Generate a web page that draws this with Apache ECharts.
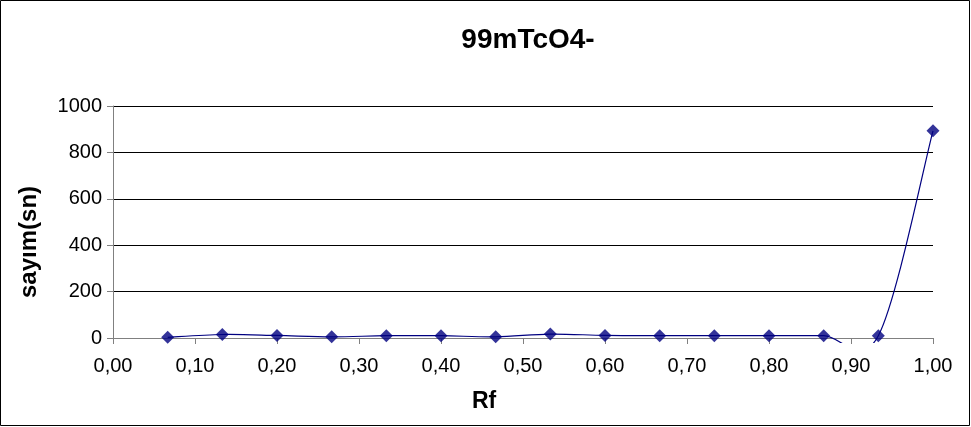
<!DOCTYPE html>
<html><head><meta charset="utf-8">
<script src="https://cdn.jsdelivr.net/npm/echarts@6/dist/echarts.min.js"></script>
<style>html,body{margin:0;padding:0;background:#fff}#c{width:971px;height:427px}</style>
</head><body><div id="c"></div>
<script>
const rfValues = [0.0667,0.1333,0.2,0.2667,0.3333,0.4,0.4667,0.5333,0.6,0.6667,0.7333,0.8,0.8667,0.9333,1.0];
const counts = [3,15,11,5,10,10,5,17,11,10,10,10,10,10,893];
const xTicks = [0,0.1,0.2,0.3,0.4,0.5,0.6,0.7,0.8,0.9,1.0];
const yTicks = [0,200,400,600,800,1000];
const points = rfValues.map((x,i)=>[x,counts[i]]);
const chart = echarts.init(document.getElementById('c'));
const f = 'Liberation Sans, Arial, sans-serif';
const LINE = '#000080';
function smoothPath(api){
  const p = points.map(d=>api.coord(d));
  const n = p.length;
  let d = 'M' + p[0][0] + ' ' + p[0][1];
  for (let i=0;i<n-1;i++){
    const p0 = p[Math.max(i-1,0)], p1 = p[i], p2 = p[i+1], p3 = p[Math.min(i+2,n-1)];
    const c1x = p1[0] + (p2[0]-p0[0])/6, c1y = p1[1] + (p2[1]-p0[1])/6;
    const c2x = p2[0] - (p3[0]-p1[0])/6, c2y = p2[1] - (p3[1]-p1[1])/6;
    d += ' C' + c1x + ' ' + c1y + ' ' + c2x + ' ' + c2y + ' ' + p2[0] + ' ' + p2[1];
  }
  return d;
}
chart.setOption({
  animation:false,
  title:{text:'99mTcO4-',left:523,textAlign:'center',top:21,textStyle:{fontFamily:f,fontSize:28,fontWeight:'bold',color:'#000'}},
  graphic:[
    {type:'rect',shape:{x:0.5,y:0.5,width:969,height:425},style:{fill:'none',stroke:'#000',lineWidth:1},silent:true},
    {type:'text',left:472,top:390,style:{text:'Rf',fontFamily:f,fontSize:23,fontWeight:'bold',fill:'#000'}},
    {type:'text',x:17,y:298,rotation:Math.PI/2,style:{text:'sayım(sn)',fontFamily:f,fontSize:24,fontWeight:'bold',fill:'#000'}}
  ],
  grid:{left:113,right:38,top:106,bottom:89},
  xAxis:{type:'value',min:0,max:1,interval:0.1,
    axisLine:{lineStyle:{color:'#808080'}},axisTick:{show:true,inside:false,length:6,lineStyle:{color:'#808080'}},
    splitLine:{show:false},
    axisLabel:{fontFamily:f,fontSize:20,color:'#000',margin:18,formatter:v=>v.toFixed(2).replace('.',',')}},
  yAxis:{type:'value',min:0,max:1000,interval:200,
    axisLine:{show:true,lineStyle:{color:'#808080'}},axisTick:{show:true,length:6,lineStyle:{color:'#808080'}},
    splitLine:{lineStyle:{color:'#000',width:1}},
    axisLabel:{fontFamily:f,fontSize:20,color:'#000',margin:11,formatter:v=>String(v)}},
  series:[
    {type:'custom',coordinateSystem:'cartesian2d',data:[points[0]],silent:true,z:2,
      renderItem:(params,api)=>{
        if (params.dataIndex!==0) return null;
        const cs = params.coordSys;
        return {type:'group',
          clipPath:{type:'rect',shape:{x:cs.x,y:cs.y-10,width:cs.width+10,height:cs.height+15}},
          children:[{type:'path',shape:{pathData:smoothPath(api)},style:{fill:'none',stroke:LINE,lineWidth:1.2}}]};
      }},
    {type:'scatter',data:points,symbol:'diamond',symbolSize:13,itemStyle:{color:LINE},z:3}
  ]
});
</script></body></html>
